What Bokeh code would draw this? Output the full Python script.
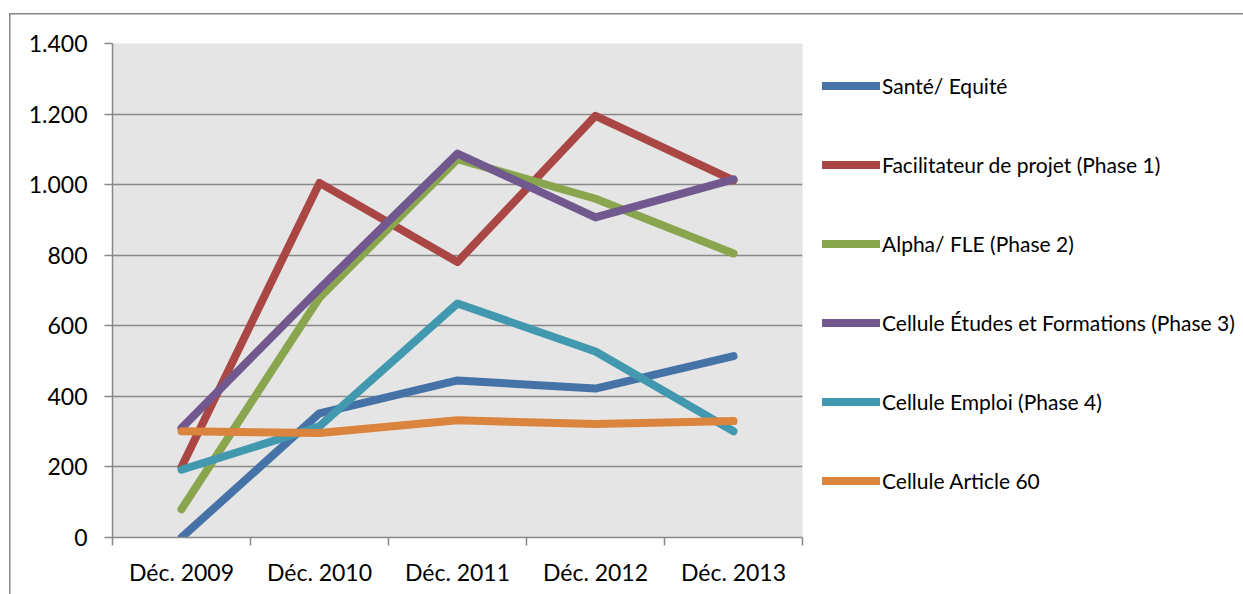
from bokeh.plotting import figure
from bokeh.models import Range1d, FixedTicker, Legend, LegendItem
from bokeh.embed import file_html
from bokeh.resources import INLINE

categories = ["Déc. 2009", "Déc. 2010", "Déc. 2011", "Déc. 2012", "Déc. 2013"]
series_names = [
    "Santé/ Equité",
    "Facilitateur de projet (Phase 1)",
    "Alpha/ FLE (Phase 2)",
    "Cellule Études et Formations (Phase 3)",
    "Cellule Emploi (Phase 4)",
    "Cellule Article 60",
]
sante = [0, 352, 445, 422, 514]
facilitateur = [200, 1005, 781, 1195, 1012]
alpha = [80, 680, 1072, 960, 805]
etudes = [310, 705, 1088, 907, 1015]
emploi = [192, 315, 663, 527, 301]
article60 = [301, 296, 332, 322, 330]
colors = ["#4572A7", "#AA4643", "#89A54E", "#71588F", "#4198AF", "#DB843D"]
y_ticks = [0, 200, 400, 600, 800, 1000, 1200, 1400]
y_tick_labels = ["0", "200", "400", "600", "800", "1.000", "1.200", "1.400"]

FONT = "Lato"
grey = "#898989"

p = figure(frame_width=690, frame_height=494, output_backend="svg", toolbar_location=None,
           x_range=Range1d(0, len(categories)), y_range=Range1d(0, 1400),
           min_border_left=112, min_border_right=27, min_border_top=43,
           min_border_bottom=57)
p.background_fill_color = "#e5e5e5"
p.border_fill_alpha = 0
p.outline_line_color = None
p.styles = {
    "background": ("linear-gradient(#878787,#878787) 9px 13px / 1.5px 100% no-repeat, "
                   "linear-gradient(#878787,#878787) 9px 13px / 100% 1.5px no-repeat, white"),
}

x = [i + 0.5 for i in range(len(categories))]
all_series = [sante, facilitateur, alpha, etudes, emploi, article60]
items = []
for name, vals, c in zip(series_names, all_series, colors):
    r = p.line(x, vals, line_color=c, line_width=8, line_cap="round", line_join="round")
    items.append(LegendItem(label=name, renderers=[r]))

# y axis
p.yaxis.ticker = FixedTicker(ticks=y_ticks)
p.yaxis.major_label_overrides = {t: l for t, l in zip(y_ticks, y_tick_labels)}
p.yaxis.major_tick_in = 0
p.yaxis.major_tick_out = 8
p.yaxis.minor_tick_line_color = None
p.yaxis.axis_line_color = grey
p.yaxis.axis_line_width = 1.5
p.yaxis.major_tick_line_color = grey
p.yaxis.major_tick_line_width = 1.5
p.yaxis.major_label_text_font = FONT
p.yaxis.major_label_text_font_size = "23px"
p.yaxis.major_label_text_color = "black"
p.yaxis.major_label_standoff = 17

# x axis
p.xaxis.ticker = FixedTicker(ticks=x, minor_ticks=list(range(len(categories) + 1)))
p.xaxis.major_label_overrides = {xx: c for xx, c in zip(x, categories)}
p.xaxis.major_tick_in = 0
p.xaxis.major_tick_out = 0
p.xaxis.minor_tick_in = 0
p.xaxis.minor_tick_out = 8
p.xaxis.minor_tick_line_color = grey
p.xaxis.minor_tick_line_width = 1.5
p.xaxis.axis_line_color = grey
p.xaxis.axis_line_width = 1.5
p.xaxis.major_label_text_font = FONT
p.xaxis.major_label_text_font_size = "23px"
p.xaxis.major_label_text_color = "black"
p.xaxis.major_label_standoff = 12

p.xgrid.grid_line_color = None
p.ygrid.ticker = FixedTicker(ticks=y_ticks)
p.ygrid.grid_line_color = grey
p.ygrid.grid_line_width = 1.5

legend = Legend(items=items, location=(20, 44), orientation="vertical",
                glyph_width=58, glyph_height=25, label_height=25, spacing=54,
                label_standoff=2, padding=0, margin=0,
                border_line_color=None, background_fill_alpha=0,
                label_text_font=FONT, label_text_font_size="21px",
                label_text_color="black")
p.add_layout(legend, "right")

open("out.html", "w").write(file_html(p, INLINE))
